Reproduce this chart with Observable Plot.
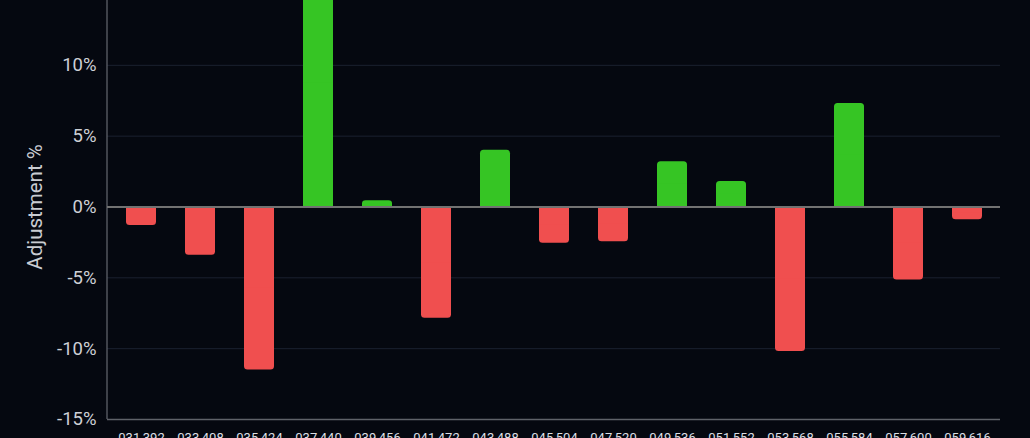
<!DOCTYPE html>
<html>
<head>
<meta charset="utf-8">
<script src="https://cdn.jsdelivr.net/npm/d3@7"></script>
<script src="https://cdn.jsdelivr.net/npm/@observablehq/plot@0.6"></script>
<style>
  html, body { margin: 0; padding: 0; background: #050810; overflow: hidden; width: 1030px; height: 438px; }
  #chart { position: absolute; left: 0; top: -26px; }
</style>
</head>
<body>
<div id="chart"></div>
<script>
const categories = ["031,392","033,408","035,424","037,440","039,456","041,472","043,488","045,504","047,520","049,536","051,552","053,568","055,584","057,600","059,616"];
const adjustments = [-1.3, -3.4, -11.5, 17.5, 0.45, -7.85, 4.0, -2.55, -2.45, 3.2, 1.8, -10.2, 7.3, -5.15, -0.9];
const yTicks = [-15, -10, -5, 0, 5, 10, 15];
const yLabel = "Adjustment %";

const data = categories.map((c, i) => ({cat: c, v: adjustments[i]}));
const fillOf = d => d.v >= 0 ? "#36c524" : "#f04f4f";

// left axis line drawn along the frame's left edge (render-function mark)
const leftAxisLine = (index, scales, values, dim) => {
  const line = d3.create("svg:line")
    .attr("x1", dim.marginLeft).attr("x2", dim.marginLeft)
    .attr("y1", 0).attr("y2", dim.height - dim.marginBottom)
    .attr("stroke", "#5f6269").attr("stroke-width", 1.3);
  return line.node();
};

const chart = Plot.plot({
  width: 1030,
  height: 475,
  marginLeft: 107,
  marginRight: 30,
  marginTop: 20,
  marginBottom: 30,
  style: {background: "#050810", fontFamily: "Roboto, sans-serif", color: "#d0d3d9", overflow: "visible"},
  x: {domain: categories, paddingInner: 0.5, paddingOuter: 0.25, label: null},
  y: {domain: [-15, 15], ticks: yTicks, label: null},
  marks: [
    Plot.ruleY(yTicks.filter(t => t !== 0 && t !== -15), {stroke: "#1b2130", strokeWidth: 1}),
    Plot.axisY({ticks: yTicks, tickSize: 0, tickPadding: 11, tickFormat: d => d + "%", fontSize: 18.5, fill: "#cdd0d6", label: null}),
    Plot.axisX({tickSize: 0, tickPadding: 13, fontSize: 13, fill: "#dcdfe4", label: null}),
    Plot.barY(data, {x: "cat", y: "v", fill: fillOf, rx: 3.5}),
    Plot.barY(data, {x: "cat", y1: 0, y2: d => d.v / 2, fill: fillOf}),
    Plot.ruleY([-15], {stroke: "#5f6269", strokeWidth: 1.3}),
    leftAxisLine,
    Plot.ruleY([0], {stroke: "#727272", strokeWidth: 2}),
    Plot.text([yLabel], {frameAnchor: "left", textAnchor: "middle", rotate: -90, dx: -72, fontSize: 20.5, fill: "#c9ccd2", text: d => d})
  ]
});
document.getElementById("chart").appendChild(chart);
</script>
</body>
</html>
